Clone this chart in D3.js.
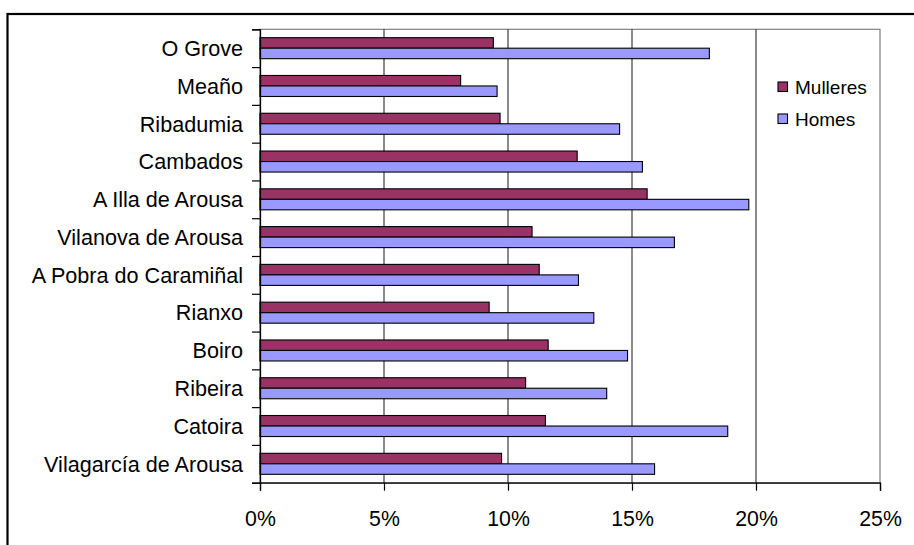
<!DOCTYPE html>
<html>
<head>
<meta charset="utf-8">
<script src="https://cdn.jsdelivr.net/npm/d3@7"></script>
<style>
  html, body { margin: 0; padding: 0; background: #fff; overflow: hidden; }
  svg { display: block; font-family: "Liberation Sans", Arial, sans-serif; }
</style>
</head>
<body>
<svg id="chart" width="914" height="545"></svg>
<script>
// ---- data ----
const categories = ["O Grove", "Meaño", "Ribadumia", "Cambados", "A Illa de Arousa",
  "Vilanova de Arousa", "A Pobra do Caramiñal", "Rianxo", "Boiro", "Ribeira",
  "Catoira", "Vilagarcía de Arousa"];
const seriesNames = ["Mulleres", "Homes"];
const mulleres = [0.0941, 0.0809, 0.0968, 0.1279, 0.1561, 0.1097, 0.1126, 0.0924, 0.1162, 0.1071, 0.1151, 0.0974];
const homes    = [0.1812, 0.0956, 0.1450, 0.1542, 0.1971, 0.1671, 0.1284, 0.1346, 0.1482, 0.1398, 0.1886, 0.1591];
const xTicks = [0, 0.05, 0.10, 0.15, 0.20, 0.25];
const colors = ["#993366", "#9999FF"];

// ---- layout ----
const svg = d3.select("#chart");
const pLeft = 260, pRight = 880, pTop = 29.3, pBottom = 482.7;

// outer chart border (extends beyond the picture at right and bottom)
svg.append("rect")
  .attr("x", 7.5).attr("y", 14).attr("width", 1000).attr("height", 1000)
  .attr("fill", "none").attr("stroke", "#000").attr("stroke-width", 2.2);

const x = d3.scaleLinear().domain([0, 0.25]).range([pLeft, pRight]);
const y = d3.scaleBand().domain(categories).range([pTop, pBottom])
  .paddingInner(0.444).paddingOuter(0.222);
const ySub = d3.scaleBand().domain(seriesNames).range([0, y.bandwidth()]);
const yIdx = d3.scaleLinear().domain([0, categories.length]).range([pTop, pBottom]);

// plot area border (grey)
svg.append("rect")
  .attr("x", pLeft).attr("y", pTop).attr("width", pRight - pLeft).attr("height", pBottom - pTop)
  .attr("fill", "none").attr("stroke", "#808080").attr("stroke-width", 1.2);

// vertical gridlines
svg.append("g").selectAll("line")
  .data(xTicks.slice(1, -1))
  .join("line")
  .attr("x1", d => x(d)).attr("x2", d => x(d))
  .attr("y1", pTop).attr("y2", pBottom)
  .attr("stroke", "#2a2a2a").attr("stroke-width", 1.1);

// bars
const data = categories.map((c, i) => ({ cat: c, vals: [mulleres[i], homes[i]] }));
const groups = svg.append("g").selectAll("g")
  .data(data).join("g")
  .attr("transform", d => `translate(0,${y(d.cat)})`);
groups.selectAll("rect")
  .data(d => d.vals.map((v, j) => ({ v, s: seriesNames[j], j })))
  .join("rect")
  .attr("x", x(0))
  .attr("y", d => ySub(d.s))
  .attr("width", d => x(d.v) - x(0))
  .attr("height", ySub.bandwidth())
  .attr("fill", d => colors[d.j])
  .attr("stroke", "#000").attr("stroke-width", 1.1);

// left axis (ticks at category boundaries)
const yAxis = svg.append("g").attr("transform", `translate(${pLeft},0)`)
  .call(d3.axisLeft(yIdx).tickValues(d3.range(categories.length + 1)).tickSize(8).tickFormat(""));
yAxis.select(".domain").attr("stroke", "#000").attr("stroke-width", 1.3);
yAxis.selectAll(".tick line").attr("stroke", "#000").attr("stroke-width", 1.2);

// category labels
svg.append("g").selectAll("text")
  .data(categories).join("text")
  .attr("x", 243)
  .attr("y", d => y(d) + y.bandwidth() / 2)
  .attr("dy", "0.36em")
  .attr("text-anchor", "end")
  .attr("font-size", 21.6)
  .attr("fill", "#000")
  .text(d => d);

// bottom axis
const xAxis = svg.append("g").attr("transform", `translate(0,${pBottom})`)
  .call(d3.axisBottom(x).tickValues(xTicks).tickSize(8).tickPadding(20)
    .tickFormat(d3.format(".0%")));
xAxis.select(".domain").attr("stroke", "#000").attr("stroke-width", 1.3);
xAxis.selectAll(".tick line").attr("stroke", "#000").attr("stroke-width", 1.2);
xAxis.selectAll(".tick text").attr("font-size", 21.3).attr("fill", "#000")
  .attr("font-family", "Liberation Sans, Arial, sans-serif");

// legend
const legend = svg.append("g").attr("transform", "translate(778,82)");
const li = legend.selectAll("g").data(seriesNames).join("g")
  .attr("transform", (d, i) => `translate(0,${i * 32})`);
li.append("rect").attr("width", 9.5).attr("height", 9.5)
  .attr("fill", (d, i) => colors[i]).attr("stroke", "#000").attr("stroke-width", 1.1);
li.append("text").attr("x", 17).attr("y", 4.8).attr("dy", "0.36em")
  .attr("font-size", 19).attr("fill", "#000").text(d => d);
</script>
</body>
</html>
